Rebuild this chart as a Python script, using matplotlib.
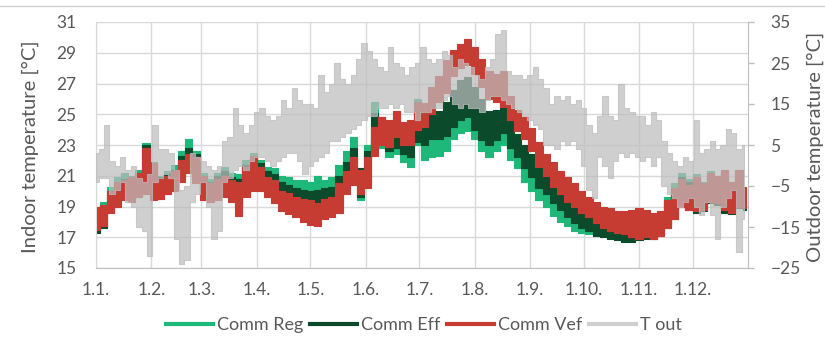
import numpy as np
import matplotlib
matplotlib.use("Agg")
import matplotlib.pyplot as plt
from matplotlib.lines import Line2D

plt.rcParams["font.family"] = ["Lato", "DejaVu Sans"]

# month starts (day of year) and their labels
month_days = [0, 31, 59, 90, 120, 151, 181, 212, 243, 273, 304, 334]
month_labels = ["1.1.", "1.2.", "1.3.", "1.4.", "1.5.", "1.6.", "1.7.", "1.8.",
                "1.9.", "1.10.", "1.11.", "1.12."]

# indoor series, read every 4 days (low / high of the daily swing)
indoor_days = np.arange(0, 365, 4)

reg_lo = [17.5, 17.8, 18.9, 19.3, 19.7, 19.5, 19.8, 20.2, 19.7, 19.7,
          20.0, 20.3, 21.0, 21.6, 21.0, 19.8, 19.6, 19.8, 20.0, 19.8,
          19.4, 20.2, 20.6, 20.7, 20.3, 20.1, 19.8, 19.7, 19.5, 19.4,
          19.2, 19.3, 19.4, 19.5, 19.8, 20.8, 21.2, 19.4, 20.6, 23.6,
          22.8, 22.2, 22.4, 21.9, 21.6, 23.0, 22.0, 22.2, 22.3, 22.6,
          23.4, 23.8, 23.9, 23.4, 22.6, 22.2, 22.6, 23.0, 22.0, 21.5,
          20.6, 20.0, 19.4, 19.0, 18.4, 18.0, 17.7, 17.4, 17.3, 17.2,
          17.2, 17.1, 17.0, 16.9, 16.9, 16.9, 16.9, 17.0, 17.0, 17.2,
          17.8, 18.4, 19.2, 19.0, 18.8, 18.9, 19.3, 19.2, 18.7, 18.6,
          19.0, 18.9]
reg_hi = [19.0, 19.3, 20.3, 20.9, 21.2, 21.0, 21.4, 23.1, 21.9, 21.0,
          21.3, 21.7, 22.6, 23.4, 22.6, 21.2, 20.8, 21.2, 21.6, 21.2,
          21.1, 22.0, 22.5, 22.0, 21.6, 21.5, 21.0, 20.9, 20.7, 20.7,
          20.6, 21.0, 20.7, 20.9, 21.7, 22.6, 23.5, 21.3, 23.0, 25.8,
          24.6, 24.2, 24.6, 23.6, 23.2, 26.0, 24.5, 24.2, 24.1, 24.4,
          25.0, 25.6, 25.8, 25.0, 24.3, 23.8, 24.2, 24.6, 23.8, 23.0,
          22.3, 21.8, 21.1, 20.5, 20.0, 19.5, 19.0, 18.8, 18.6, 18.4,
          18.3, 18.1, 18.0, 17.9, 17.9, 18.0, 18.2, 18.4, 18.4, 18.7,
          19.6, 20.5, 21.2, 20.8, 21.1, 20.6, 21.3, 21.0, 21.3, 20.6,
          21.3, 20.2]

eff_lo = [17.3, 17.6, 18.7, 19.1, 19.5, 19.4, 19.6, 20.0, 19.6, 19.6,
          19.9, 20.1, 20.8, 21.4, 20.8, 19.6, 19.5, 19.6, 19.8, 19.6,
          19.0, 19.9, 20.3, 20.4, 20.0, 19.8, 19.4, 19.3, 19.0, 18.8,
          18.6, 18.7, 18.8, 18.9, 19.2, 20.3, 20.8, 19.6, 20.4, 23.2,
          23.0, 22.6, 22.8, 22.4, 22.2, 23.2, 23.0, 23.4, 23.4, 23.6,
          24.2, 24.6, 24.8, 24.0, 23.3, 23.0, 23.3, 23.8, 22.8, 22.2,
          21.5, 20.9, 20.2, 19.8, 19.2, 18.8, 18.3, 17.9, 17.6, 17.4,
          17.1, 17.0, 16.9, 16.8, 16.7, 16.7, 16.8, 16.9, 16.9, 17.1,
          17.6, 18.2, 19.0, 18.8, 18.6, 18.7, 19.2, 19.1, 18.6, 18.5,
          18.9, 18.8]
eff_hi = [18.8, 19.0, 20.0, 20.6, 20.8, 20.9, 21.2, 23.0, 21.8, 20.9,
          21.1, 21.4, 22.3, 22.8, 22.4, 21.0, 20.6, 21.0, 21.3, 20.9,
          20.8, 21.7, 22.3, 21.8, 21.3, 21.1, 20.6, 20.4, 20.2, 20.1,
          20.0, 20.1, 20.2, 20.3, 21.0, 21.9, 22.8, 21.5, 22.6, 25.1,
          24.8, 24.5, 24.9, 24.0, 23.8, 25.3, 24.8, 25.2, 25.2, 25.8,
          26.6, 27.2, 27.4, 26.8, 26.0, 25.2, 25.3, 25.8, 25.0, 23.7,
          23.0, 22.4, 21.8, 21.2, 20.7, 20.2, 19.6, 19.3, 19.0, 18.8,
          18.4, 18.2, 18.0, 17.9, 17.8, 17.9, 18.1, 18.2, 18.2, 18.5,
          19.3, 20.2, 20.9, 20.6, 20.9, 20.4, 21.1, 20.9, 21.2, 20.5,
          21.2, 20.2]

vef_lo = [17.5, 17.7, 18.6, 19.0, 19.4, 19.3, 19.6, 19.8, 19.4, 19.5,
          19.8, 20.0, 20.6, 21.2, 20.5, 19.4, 19.3, 19.4, 19.6, 19.3,
          18.4, 19.6, 20.0, 20.0, 19.6, 19.2, 18.7, 18.5, 18.3, 18.0,
          17.8, 17.7, 18.2, 18.3, 18.6, 19.8, 20.4, 19.8, 20.2, 22.3,
          23.0, 22.9, 23.5, 23.0, 23.0, 24.0, 24.2, 25.0, 25.8, 26.4,
          27.5, 28.0, 28.2, 27.6, 26.8, 26.0, 25.8, 25.5, 24.6, 23.9,
          23.4, 22.6, 21.6, 21.0, 20.3, 19.8, 19.3, 19.0, 18.6, 18.3,
          17.9, 17.6, 17.4, 17.3, 17.2, 17.0, 16.9, 17.0, 16.9, 17.1,
          17.6, 18.2, 19.0, 18.8, 18.7, 18.8, 19.3, 19.2, 18.8, 18.6,
          19.0, 18.9]
vef_hi = [19.0, 19.1, 20.0, 20.6, 20.7, 20.9, 21.2, 22.8, 21.8, 20.8,
          21.0, 21.3, 22.0, 22.4, 22.2, 21.0, 20.5, 20.8, 21.0, 20.7,
          20.6, 21.6, 22.3, 21.6, 20.9, 20.7, 20.0, 19.9, 19.6, 19.5,
          19.4, 19.2, 19.5, 19.6, 20.5, 21.3, 22.2, 21.4, 22.2, 24.2,
          24.8, 24.6, 25.2, 24.5, 24.6, 25.8, 25.7, 26.8, 27.5, 28.5,
          29.2, 29.6, 29.9, 29.4, 28.6, 27.8, 27.6, 27.8, 26.2, 25.3,
          24.8, 24.1, 23.2, 22.4, 21.9, 21.3, 20.9, 20.5, 20.0, 19.6,
          19.3, 19.0, 18.9, 18.7, 18.7, 18.8, 18.9, 18.8, 18.6, 18.7,
          19.4, 20.2, 20.8, 20.4, 20.9, 20.5, 21.2, 21.0, 21.4, 20.6,
          21.4, 20.3]

# outdoor temperature, read every 3 days (low / high)
tout_days = np.arange(0, 364, 3)
tout_lo = [-4, -3, -3, -7, -6, -4, -9, -10, -15, -16,
           -22, -4, -3, -2, -3, -18, -24, -23, -9, -7,
           -4, -10, -18, -16, -4, -3, -1, 0, -1, 1,
           2, 2, 1, 0, 1, 2, 3, 3, 1, -2,
           0, 1, 2, 3, 6, 6, 7, 8, 9, 10,
           11, 12, 12, 14, 14, 15, 14, 15, 13, 13,
           11, 13, 13, 14, 14, 16, 17, 15, 14, 15,
           14, 14, 13, 16, 17, 17, 16, 15, 14, 13,
           12, 11, 10, 9, 5, 5, 4, 6, 5, 6,
           4, 0, -6, -8, 2, 0, -3, 1, 3, 2,
           3, 2, 1, 2, 0, 2, -5, -7, -8, -10,
           -9, -8, -10, -12, -9, -12, -18, -10, -8, -6,
           -21, -13]
tout_hi = [3, 4, 10, 1, 0, 2, -1, 0, -3, -4,
           -2, 10, 4, 4, 3, -1, -6, -5, 3, 2,
           1, 0, -1, 0, 6, 7, 14, 10, 8, 10,
           13, 14, 12, 11, 12, 16, 14, 19, 16, 15,
           15, 14, 22, 18, 20, 25, 21, 20, 22, 26,
           30, 28, 26, 24, 23, 29, 25, 24, 22, 24,
           25, 29, 26, 25, 26, 28, 27, 24, 26, 25,
           24, 22, 21, 24, 26, 32, 33, 23, 22, 22,
           21, 22, 24, 21, 19, 15, 17, 16, 17, 15,
           16, 14, 10, 8, 12, 17, 12, 11, 20, 14,
           13, 12, 12, 10, 13, 11, 6, 3, 1, 0,
           2, 1, 11, 3, 4, 6, 4, 5, 9, 8,
           4, 5]

c_reg = "#1DB87A"
c_eff = "#0B4A2B"
c_vef = "#C63C32"
c_out = "#BDBDBD"
c_grid = "#D9D9D9"
c_text = "#595959"

fig = plt.figure(figsize=(8.25, 3.41), dpi=100)
ax = fig.add_axes([96 / 825, 1 - 268 / 341, 652 / 825, 246 / 341])

# stepped bands give the blocky look of the dense hourly lines
for lo, hi, col in [(reg_lo, reg_hi, c_reg), (eff_lo, eff_hi, c_eff), (vef_lo, vef_hi, c_vef)]:
    ax.fill_between(indoor_days, lo, hi, step="mid", color=col, lw=0.8, edgecolor=col)

ax.set_xlim(0, 365)
ax.set_ylim(15, 31)
ax.set_yticks(range(15, 32, 2))
ax.set_xticks(month_days)
ax.set_xticklabels(month_labels)
ax.grid(True, color=c_grid, lw=1)
ax.set_axisbelow(True)
ax.tick_params(axis="both", length=0, labelsize=12.5, colors=c_text)
ax.tick_params(axis="y", pad=14)
ax.tick_params(axis="x", pad=10)
for s in ["top", "right"]:
    ax.spines[s].set_visible(False)
ax.spines["left"].set_color(c_grid)
ax.spines["bottom"].set_color("#BFBFBF")

ax2 = ax.twinx()
ax2.fill_between(tout_days, tout_lo, tout_hi, step="mid", color=c_out, alpha=0.72, lw=0.8)
ax2.set_ylim(-25, 35)
ax2.set_yticks(range(-25, 36, 10))
ax2.tick_params(axis="y", length=4, width=1, color="#BFBFBF", labelsize=12.5,
                colors=c_text, pad=12)
ax2.tick_params(axis="y", color="#BFBFBF")
for s in ["top", "left", "bottom"]:
    ax2.spines[s].set_visible(False)
ax2.spines["right"].set_color("#BFBFBF")

fig.text(30 / 825, 1 - 147 / 341, "Indoor temperature [°C]", rotation=90,
         ha="center", va="center", fontsize=14.5, color=c_text)
fig.text(815 / 825, 1 - 147 / 341, "Outdoor temperature [°C]", rotation=90,
         ha="center", va="center", fontsize=14.5, color=c_text)

handles = [Line2D([], [], color=c_reg, lw=3),
           Line2D([], [], color=c_eff, lw=3),
           Line2D([], [], color=c_vef, lw=3),
           Line2D([], [], color=c_out, lw=3, alpha=0.72)]
fig.legend(handles, ["Comm Reg", "Comm Eff", "Comm Vef", "T out"], loc="center",
           bbox_to_anchor=(424 / 825, 1 - 325 / 341), ncol=4, frameon=False,
           fontsize=13, handlelength=2.6, handletextpad=0.2, columnspacing=0.4,
           labelcolor=c_text)

fig.add_artist(Line2D([0, 1], [1 - 6 / 341, 1 - 6 / 341], color="#CFCFCF", lw=1))

fig.savefig("out.png", dpi=100)
